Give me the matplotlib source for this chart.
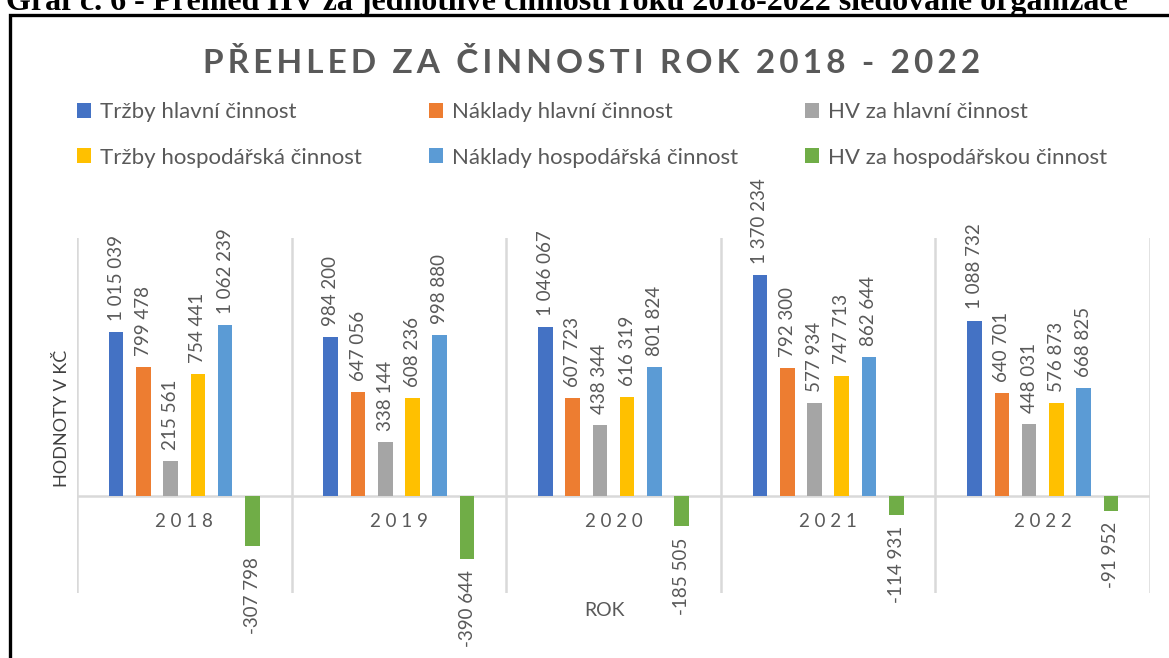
import numpy as np
import matplotlib.pyplot as plt
from matplotlib.patches import Rectangle

plt.rcParams['font.family'] = ['Lato', 'DejaVu Sans']

roky = ["2018", "2019", "2020", "2021", "2022"]
serie = ["Tržby hlavní činnost", "Náklady hlavní činnost", "HV za hlavní činnost",
         "Tržby hospodářská činnost", "Náklady hospodářská činnost", "HV za hospodářskou činnost"]
trzby_hl = [1015039, 984200, 1046067, 1370234, 1088732]
naklady_hl = [799478, 647056, 607723, 792300, 640701]
hv_hl = [215561, 338144, 438344, 577934, 448031]
trzby_hosp = [754441, 608236, 616319, 747713, 576873]
naklady_hosp = [1062239, 998880, 801824, 862644, 668825]
hv_hosp = [-307798, -390644, -185505, -114931, -91952]
barvy = ["#4472C4", "#ED7D31", "#A5A5A5", "#FFC000", "#5B9BD5", "#70AD47"]

data = [trzby_hl, naklady_hl, hv_hl, trzby_hosp, naklady_hosp, hv_hosp]
sedy = "#595959"

def fmt(v):
    return f"{v:,}".replace(",", " ")

fig = plt.figure(figsize=(11.69, 6.58), dpi=100)

# nadpis nahore (oriznuty jako v predloze)
fig.text(6 / 1169, 1 - 10 / 658,
         "Graf č. 6 - Přehled HV za jednotlivé činnosti roku 2018-2022 sledované organizace",
         family="Liberation Serif", fontweight="bold", fontsize=23, va="baseline", ha="left")
# ramecek
fig.add_artist(Rectangle((10 / 1169, -0.1), 1.2, 1 - 15 / 658 + 0.1,
                         transform=fig.transFigure, fill=False, ec="black", lw=2.4))

ax = fig.add_axes([77 / 1169, 1 - 593 / 658, 1073 / 1169, 355 / 658])
x = np.arange(len(roky))
krok = 0.127
sirka = 0.068
for i, (hodnoty, barva, nazev) in enumerate(zip(data, barvy, serie)):
    pos = x + (i - 2.5) * krok
    ax.bar(pos, hodnoty, width=sirka, color=barva, label=nazev, zorder=3)
    for px, v in zip(pos, hodnoty):
        if v >= 0:
            ax.annotate(fmt(v), (px, v), xytext=(0, 8), textcoords="offset points",
                        rotation=90, ha="center", va="bottom", fontsize=13.5, color=sedy)
        else:
            ax.annotate(fmt(v), (px, v), xytext=(0, -8), textcoords="offset points",
                        rotation=90, ha="center", va="top", fontsize=13.5, color=sedy)

ax.set_xlim(-0.5, len(roky) - 0.5)
ax.set_ylim(-600000, 1600000)
ax.axhline(0, color="#D9D9D9", lw=1.8, zorder=2)
for s in np.arange(-0.5, len(roky), 1.0):
    ax.axvline(s, color="#D9D9D9", lw=1.8, zorder=2)
for sp in ax.spines.values():
    sp.set_visible(False)
ax.set_xticks([])
ax.set_yticks([])
for i, r in enumerate(roky):
    ax.annotate(" ".join(r), (i, 0), xytext=(0, -12), textcoords="offset points",
                ha="center", va="top", fontsize=13.5, color=sedy)

fig.text(605 / 1169, 1 - 610 / 658, "ROK", ha="center", va="center", fontsize=14, color=sedy)
fig.text(62 / 1169, 1 - 418 / 658, "HODNOTY V KČ", ha="center", va="center",
         rotation=90, fontsize=13, color="#404040")
nadpis = "PŘEHLED ZA ČINNOSTI ROK 2018 - 2022"
fig.text(592 / 1169, 1 - 63 / 658, "\u2009".join(nadpis),
         ha="center", va="center", fontsize=24, fontweight="bold", color=sedy)

h, l = ax.get_legend_handles_labels()
poradi = [0, 3, 1, 4, 2, 5]
fig.legend([h[k] for k in poradi], [l[k] for k in poradi], ncol=3,
           loc="upper left", bbox_to_anchor=(77 / 1169, 1 - 102 / 658), frameon=False,
           borderpad=0, borderaxespad=0,
           fontsize=16, labelcolor=sedy, handlelength=0.65, handleheight=0.65,
           handletextpad=0.4, labelspacing=1.15, columnspacing=3.0)

fig.savefig("out.png", dpi=100)
